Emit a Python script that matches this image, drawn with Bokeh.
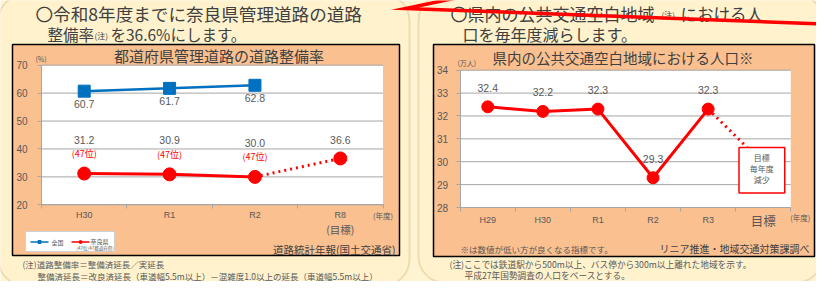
from bokeh.plotting import figure
from bokeh.models import Range1d, LinearAxis, FixedTicker, BoxAnnotation
from bokeh.core.properties import value
from bokeh.embed import file_html
from bokeh.resources import INLINE

# ---------------- data ----------------
road_years = ["H30", "R1", "R2", "R8"]
national_rate = [60.7, 61.7, 62.8]          # 全国
nara_rate = [31.2, 30.9, 30.0]              # 奈良県
nara_target_rate = 36.6                     # R8 目標
nara_rank = ["(47位)", "(47位)", "(47位)"]
road_yticks = [20, 30, 40, 50, 60, 70]

pop_years = ["H29", "H30", "R1", "R2", "R3", "目標"]
pop_vals = [32.4, 32.2, 32.3, 29.3, 32.3]   # 万人
pop_yticks = [28, 29, 30, 31, 32, 33, 34]

# ---------------- style ----------------
JP = "Noto Sans CJK JP"
NUM = "Liberation Sans"
DARK = "#404040"
GRAY = "#595959"
GRID = "#A6A6A6"
BLUE = "#0070C0"
RED = "#FF0000"
ORANGE = "#FAC090"
CREAM = "#FFF2CC"

# canvas: reference pixel coordinates, cropped by the 8px page margin
X0, X1, YT, YB = 8, 824, 8, 289
p = figure(width=X1 - X0, height=YB - YT, x_range=Range1d(X0, X1), y_range=Range1d(YB, YT),
           output_backend="svg", toolbar_location=None, x_axis_type=None, y_axis_type=None,
           min_border=0)
p.outline_line_color = None
p.background_fill_color = "#FFF4D2"
p.border_fill_color = "#FFF4D2"


def lin_range(p0, p1, v0, v1, f0, f1):
    k = (v1 - v0) / (p1 - p0)
    return Range1d(v0 + (f0 - p0) * k, v0 + (f1 - p0) * k)

# chart plot-area geometry (pixels)
L_X0, L_X1, L_YT, L_YB = 49, 390.5, 72.7, 212.3
R_X0, R_X1, R_YT, R_YB = 467.7, 798.3, 77.7, 215.0
L_PPU = (L_YB - L_YT) / (road_yticks[-1] - road_yticks[0])
R_PPU = (R_YB - R_YT) / (pop_yticks[-1] - pop_yticks[0])

p.extra_x_ranges = {
    "LX": lin_range(L_X0, L_X1, 0, len(road_years), X0, X1),
    "RX": lin_range(R_X0, R_X1, 0, len(pop_years), X0, X1),
}
p.extra_y_ranges = {
    "LY": lin_range(L_YB, L_YT, road_yticks[0], road_yticks[-1], YB, YT),
    "RY": lin_range(R_YB, R_YT, pop_yticks[0], pop_yticks[-1], YB, YT),
}
LR = dict(x_range_name="LX", y_range_name="LY")
RR = dict(x_range_name="RX", y_range_name="RY")


def txt(x, y, s, size, color=DARK, align="left", font=JP, baseline="middle", **kw):
    if not isinstance(x, list):
        x, y, s = [x], [y], [s]
    p.text(x=x, y=y, text=s, text_font=value(font), text_font_size=f"{size}px",
           text_color=color, text_align=align, text_baseline=baseline, **kw)

# ---------------- panels ----------------
for l, r, t, b in [(6, 417, 2, 293), (426, 830, 2, 290)]:
    p.add_layout(BoxAnnotation(left=l, right=r, top=t, bottom=b, border_radius=26,
                               fill_color=CREAM, fill_alpha=1, line_color="#C4A86C",
                               line_width=2, level="underlay"))
for l, r, t, b in [(20, 407, 52, 263), (441, 822, 52, 264)]:
    p.quad(left=l, right=r, top=t, bottom=b, fill_color=ORANGE, line_color="black", line_width=1.5)

# panel headings
txt(43, 21, "〇令和8年度までに奈良県管理道路の道路", 17.6)
txt(55, 41.7, "整備率", 15.5)
txt(102, 43, "(注)", 8)
txt(118, 41.7, "を36.6%にします。", 15.5)
txt(458, 21, "〇県内の公共交通空白地域", 17)
txt(669, 22, "(注)", 8)
txt(688, 21, "における人", 16.5)
txt(470, 41.7, "口を毎年度減らします。", 16)

# ---------------- left chart ----------------
nL = len(road_years)
p.quad(left=0, right=nL, bottom=road_yticks[0], top=road_yticks[-1], fill_color="white",
       line_color=None, **LR)
p.segment(x0=[0] * len(road_yticks), x1=[nL] * len(road_yticks), y0=road_yticks, y1=road_yticks,
          line_color=GRID, line_width=1, **LR)

ya = LinearAxis(fixed_location=0, bounds=(road_yticks[0], road_yticks[-1]),
                ticker=FixedTicker(ticks=road_yticks, minor_ticks=[]), **LR)
xa = LinearAxis(fixed_location=road_yticks[0], bounds=(0, nL),
                ticker=FixedTicker(ticks=list(range(nL + 1)), minor_ticks=[]), **LR)
xl = LinearAxis(fixed_location=road_yticks[0],
                ticker=FixedTicker(ticks=[i + 0.5 for i in range(nL)], minor_ticks=[]),
                major_label_overrides={i + 0.5: c for i, c in enumerate(road_years)}, **LR)
for ax, side in [(ya, "left"), (xa, "below"), (xl, "below")]:
    ax.axis_line_color = GRID
    ax.major_tick_line_color = GRID
    ax.minor_tick_line_color = None
    ax.major_tick_out = 4
    ax.major_tick_in = 0
    ax.major_label_text_font = NUM
    ax.major_label_text_color = GRAY
    ax.major_label_text_font_size = "10px"
    p.add_layout(ax, side)
ya.major_label_standoff = 10
xa.major_label_text_color = None
xl.axis_line_color = None
xl.major_tick_line_color = None
xl.major_tick_out = 0
xl.major_label_standoff = 5
xl.major_label_text_font_size = "9px"

xs_nat = [i + 0.5 for i in range(len(national_rate))]
xs_nara = [i + 0.5 for i in range(len(nara_rate))]
x_target = len(road_years) - 0.5
p.line(xs_nat, national_rate, line_color=BLUE, line_width=2.5, **LR)
p.scatter(xs_nat, national_rate, marker="square", size=12, fill_color=BLUE, line_color=BLUE, **LR)
p.line([xs_nara[-1], x_target], [nara_rate[-1], nara_target_rate], line_color=RED, line_width=3,
       line_dash="2 4", **LR)
p.line(xs_nara, nara_rate, line_color=RED, line_width=3, **LR)
p.scatter(xs_nara + [x_target], nara_rate + [nara_target_rate], marker="circle", size=13,
          fill_color=RED, line_color=RED, **LR)

txt(xs_nat, [v - 13 / L_PPU for v in national_rate], [f"{v:.1f}" for v in national_rate], 10.5,
    color=GRAY, align="center", font=NUM, **LR)
txt(xs_nara + [x_target], [v + 34 / L_PPU for v in nara_rate] + [nara_target_rate + 18 / L_PPU],
    [f"{v:.1f}" for v in nara_rate + [nara_target_rate]], 10.5, color=GRAY, align="center",
    font=NUM, **LR)
txt(xs_nara, [v + 20 / L_PPU for v in nara_rate], nara_rank, 9, color=RED, align="center", **LR)
txt(x_target, road_yticks[0] - 25 / L_PPU, "(目標)", 10.5, color=GRAY, align="center", **LR)
txt(nL, road_yticks[0] - 10.4 / L_PPU, "(年度)", 7.5, color=GRAY, align="center", **LR)

txt(226.5, 62.5, "都道府県管理道路の道路整備率", 15, align="center")
txt(43, 66, "(%)", 7, color=GRAY)
txt(403, 257, "道路統計年報(国土交通省)", 10.5, align="right")

# legend
p.quad(left=33, right=122, top=239, bottom=259, fill_color="white", line_color="#D0D0D0")
p.line([38, 56], [249.5, 249.5], line_color=BLUE, line_width=1.5)
p.scatter([47], [249.5], marker="square", size=3, color=BLUE)
txt(59, 249.5, "全国", 6, color=GRAY)
p.line([79, 97], [249.5, 249.5], line_color=RED, line_width=1.5)
p.scatter([88], [249.5], marker="circle", size=3, color=RED)
txt(98, 248.5, "奈良県", 6, color=GRAY)
txt(84, 255.5, "(47位/47都道府県)", 4.5, color=GRAY)

txt(30, 271.7, "(注)道路整備率＝整備済延長／実延長", 8.5, color=GRAY)
txt(45, 283.3, "整備済延長＝改良済延長（車道幅5.5m以上）－混雑度1.0以上の延長（車道幅5.5m以上）", 8.5,
    color=GRAY)

# ---------------- right chart ----------------
nR = len(pop_years)
p.quad(left=0, right=nR, bottom=pop_yticks[0], top=pop_yticks[-1], fill_color="white",
       line_color=None, **RR)
p.segment(x0=[0] * len(pop_yticks), x1=[nR] * len(pop_yticks), y0=pop_yticks, y1=pop_yticks,
          line_color=GRID, line_width=1, **RR)
rya = LinearAxis(fixed_location=0, bounds=(pop_yticks[0], pop_yticks[-1]),
                 ticker=FixedTicker(ticks=pop_yticks, minor_ticks=[]), **RR)
rxa = LinearAxis(fixed_location=pop_yticks[0], bounds=(0, nR),
                 ticker=FixedTicker(ticks=list(range(nR + 1)), minor_ticks=[]), **RR)
rxl = LinearAxis(fixed_location=pop_yticks[0],
                 ticker=FixedTicker(ticks=[i + 0.5 for i in range(nR - 1)], minor_ticks=[]),
                 major_label_overrides={i + 0.5: c for i, c in enumerate(pop_years[:-1])}, **RR)
for ax, side in [(rya, "left"), (rxa, "below"), (rxl, "below")]:
    ax.axis_line_color = GRID
    ax.major_tick_line_color = GRID
    ax.minor_tick_line_color = None
    ax.major_tick_out = 4
    ax.major_tick_in = 0
    ax.major_label_text_font = NUM
    ax.major_label_text_color = GRAY
    ax.major_label_text_font_size = "10px"
    p.add_layout(ax, side)
rya.major_label_standoff = 8
rxa.major_label_text_color = None
rxl.axis_line_color = None
rxl.major_tick_line_color = None
rxl.major_tick_out = 0
rxl.major_label_standoff = 7
rxl.major_label_text_font_size = "9px"

xs_pop = [i + 0.5 for i in range(len(pop_vals))]
# target box (layout, in chart coordinates)
BOX_L, BOX_R, BOX_B, BOX_T = 5.06, 5.89, 28.63, 30.62
p.line([xs_pop[-1], 5.21], [pop_vals[-1], BOX_T], line_color=RED, line_width=3, line_dash="2 4",
       **RR)
p.line(xs_pop, pop_vals, line_color=RED, line_width=3, **RR)
p.scatter(xs_pop, pop_vals, marker="circle", size=12, fill_color=RED, line_color=RED, **RR)
txt(xs_pop, [v + 19 / R_PPU for v in pop_vals], [f"{v:.1f}" for v in pop_vals], 10.5,
    color=GRAY, align="center", font=NUM, **RR)
p.quad(left=BOX_L, right=BOX_R, bottom=BOX_B, top=BOX_T, fill_color="white", line_color=RED,
       line_width=1.5, **RR)
bx = (BOX_L + BOX_R) / 2
txt([bx] * 3, [BOX_T - 10 / R_PPU, BOX_T - 21 / R_PPU, BOX_T - 32 / R_PPU],
    ["目標", "毎年度", "減少"], 8, color=GRAY, align="center", **RR)
txt(nR - 0.5, pop_yticks[0] - 13 / R_PPU, pop_years[-1], 12.5, color=GRAY, align="center", **RR)
txt(nR + 0.17, pop_yticks[0] - 10 / R_PPU, "(年度)", 7.5, color=GRAY, align="center", **RR)

txt(630.5, 65, "県内の公共交通空白地域における人口※", 14.5, align="center")
txt(465, 70, "(万人)", 7, color=GRAY)
txt(468, 256, "※は数値が低い方が良くなる指標です。", 8.5, color=GRAY)
txt(817, 256, "リニア推進・地域交通対策課調べ", 10, align="right")
txt(457, 271.7, "(注)ここでは鉄道駅から500m以上、バス停から300m以上離れた地域を示す。", 8.7, color=GRAY)
txt(472, 283.3, "平成27年国勢調査の人口をベースとする。", 8.7, color=GRAY)

# red annotation arrow
p.line([490, 413, 832], [0, 16, 31.5], line_color=RED, line_width=3.5, line_join="miter")

open("out.html", "w").write(file_html(p, INLINE))
